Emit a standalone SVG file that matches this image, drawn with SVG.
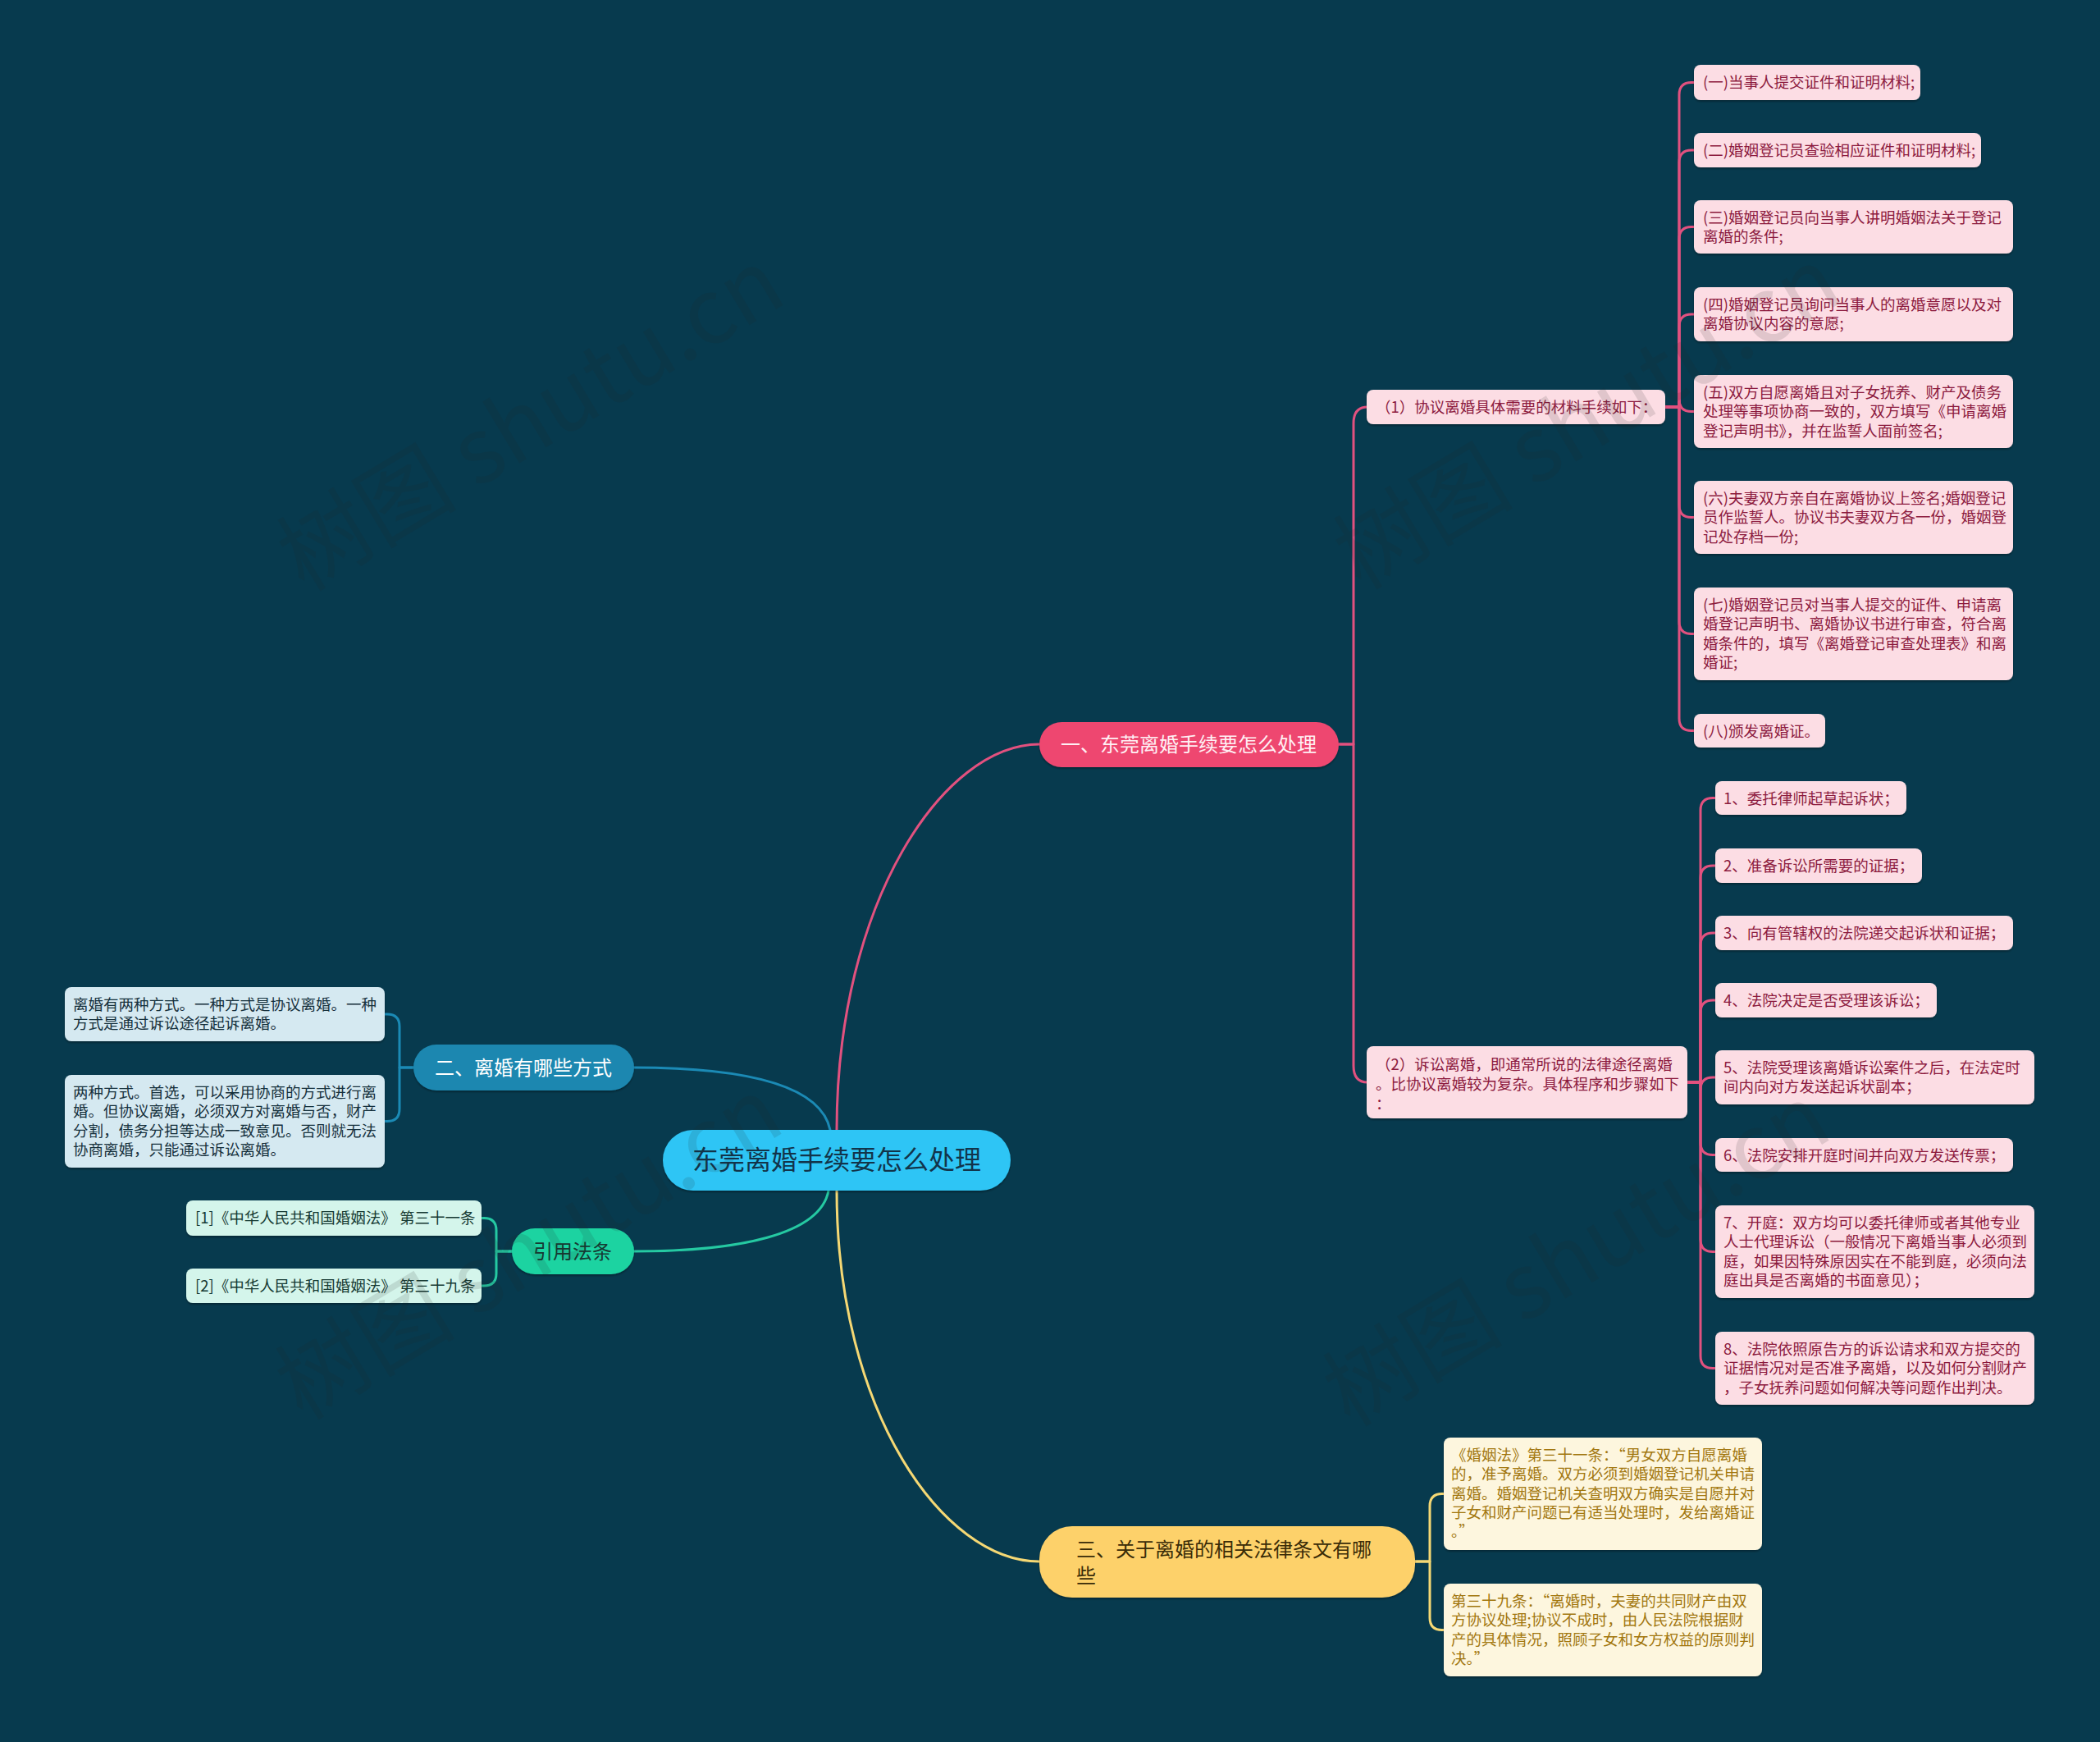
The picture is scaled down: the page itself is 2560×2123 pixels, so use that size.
<svg xmlns="http://www.w3.org/2000/svg" width="2560" height="2123" viewBox="0 0 2560 2123">
<defs>
<filter id="sh" x="-10%" y="-20%" width="120%" height="150%"><feDropShadow dx="0" dy="2" stdDeviation="1" flood-color="#000" flood-opacity="0.3"/></filter>
<style>
text{font-family:"Noto Sans CJK SC","Noto Sans",sans-serif}
.s{font-size:18.5px}
.b{font-size:24px}
.pk{fill:#fcdde4}
.pkt{fill:#8c1a3e}
.bl{fill:#d5e9f1}
.blt{fill:#15303c}
.gr{fill:#d4f5eb}
.grt{fill:#163a33}
.yl{fill:#fdf6de}
.ylt{fill:#a2770f}
.c{fill:none;stroke-width:3;stroke-linecap:round;stroke-linejoin:round}
.cp{stroke:#e2517f}
.cb{stroke:#1b8ab5}
.cg{stroke:#25c9a2}
.cy{stroke:#f5d874}
.wm{font-size:110px;fill:#222;opacity:0.12}
</style>
</defs>
<rect width="2560" height="2123" fill="#073a4e"/>

<g id="connectors">
<path class="c cp" d="M1020 1400 V1377 C1020 1100 1150 907 1267 907"/>
<path class="c cb" d="M772 1301 C900 1301 1000 1320 1012 1377"/>
<path class="c cg" d="M772 1525 C900 1525 1000 1505 1010 1451"/>
<path class="c cy" d="M1020 1451 C1020 1720 1150 1903 1267 1903"/>

<path class="c cp" d="M1632 907 H1650 V516 Q1650 496 1667 496"/>
<path class="c cp" d="M1632 907 H1650 V1299 Q1650 1319 1667 1319"/>

<path class="c cp" d="M2030 496 H2047 V115.5 Q2047 100.5 2062 100.5 H2065"/>
<path class="c cp" d="M2030 496 H2047 V198 Q2047 183 2062 183 H2065"/>
<path class="c cp" d="M2030 496 H2047 V291.5 Q2047 276.5 2062 276.5 H2065"/>
<path class="c cp" d="M2030 496 H2047 V398 Q2047 383 2062 383 H2065"/>
<path class="c cp" d="M2030 496 H2047 V486.5 Q2047 501.5 2062 501.5 H2065"/>
<path class="c cp" d="M2030 496 H2047 V615.5 Q2047 630.5 2062 630.5 H2065"/>
<path class="c cp" d="M2030 496 H2047 V757.5 Q2047 772.5 2062 772.5 H2065"/>
<path class="c cp" d="M2030 496 H2047 V875.5 Q2047 890.5 2062 890.5 H2065"/>

<path class="c cp" d="M2057 1319 H2073 V987.5 Q2073 972.5 2088 972.5 H2091"/>
<path class="c cp" d="M2057 1319 H2073 V1070 Q2073 1055 2088 1055 H2091"/>
<path class="c cp" d="M2057 1319 H2073 V1152 Q2073 1137 2088 1137 H2091"/>
<path class="c cp" d="M2057 1319 H2073 V1234 Q2073 1219 2088 1219 H2091"/>
<path class="c cp" d="M2057 1319 H2073 V1328 Q2073 1313 2088 1313 H2091"/>
<path class="c cp" d="M2057 1319 H2073 V1392.5 Q2073 1407.5 2088 1407.5 H2091"/>
<path class="c cp" d="M2057 1319 H2073 V1510.5 Q2073 1525.5 2088 1525.5 H2091"/>
<path class="c cp" d="M2057 1319 H2073 V1652.5 Q2073 1667.5 2088 1667.5 H2091"/>

<path class="c cb" d="M504 1301 H487 V1251 Q487 1236 472 1236 H469"/>
<path class="c cb" d="M504 1301 H487 V1351.5 Q487 1366.5 472 1366.5 H469"/>

<path class="c cg" d="M624 1525 H605 V1499.5 Q605 1484.5 590 1484.5 H587"/>
<path class="c cg" d="M624 1525 H605 V1552 Q605 1567 590 1567 H587"/>

<path class="c cy" d="M1725 1903 H1743 V1835.5 Q1743 1820.5 1758 1820.5 H1760"/>
<path class="c cy" d="M1725 1903 H1743 V1971.5 Q1743 1986.5 1758 1986.5 H1760"/>
</g>

<g id="root">
<rect x="808" y="1377" width="424" height="74" rx="37" fill="#2fc5f5" filter="url(#sh)"/>
<text x="1020" y="1425" font-size="32" fill="#12344a" text-anchor="middle">东莞离婚手续要怎么处理</text>
</g>

<g id="branch1">
<rect x="1267" y="880" width="365" height="55" rx="27.5" fill="#ee4670" filter="url(#sh)"/>
<text class="b" x="1449" y="916" fill="#fff0f4" text-anchor="middle">一、东莞离婚手续要怎么处理</text>
</g>

<g id="n1-1">
<rect class="pk" x="1666" y="475" width="364" height="42" rx="8" filter="url(#sh)"/>
<text class="s pkt" x="1677" y="503">（1）协议离婚具体需要的材料手续如下：</text>
</g>
<g id="n1-2">
<rect class="pk" x="1666" y="1275" width="391" height="88" rx="8" filter="url(#sh)"/>
<text class="s pkt"><tspan x="1677" y="1304">（2）诉讼离婚，即通常所说的法律途径离婚</tspan><tspan x="1677" y="1328">。比协议离婚较为复杂。具体程序和步骤如下</tspan><tspan x="1677" y="1352">：</tspan></text>
</g>

<g id="a1">
<rect class="pk" x="2065" y="79" width="276" height="43" rx="8" filter="url(#sh)"/>
<text class="s pkt" x="2076" y="107">(一)当事人提交证件和证明材料;</text>
</g>
<g id="a2">
<rect class="pk" x="2065" y="162" width="350" height="42" rx="8" filter="url(#sh)"/>
<text class="s pkt" x="2076" y="190">(二)婚姻登记员查验相应证件和证明材料;</text>
</g>
<g id="a3">
<rect class="pk" x="2065" y="244" width="389" height="65" rx="8" filter="url(#sh)"/>
<text class="s pkt"><tspan x="2076" y="272">(三)婚姻登记员向当事人讲明婚姻法关于登记</tspan><tspan x="2076" y="295.3">离婚的条件;</tspan></text>
</g>
<g id="a4">
<rect class="pk" x="2065" y="350" width="389" height="66" rx="8" filter="url(#sh)"/>
<text class="s pkt"><tspan x="2076" y="378">(四)婚姻登记员询问当事人的离婚意愿以及对</tspan><tspan x="2076" y="401.3">离婚协议内容的意愿;</tspan></text>
</g>
<g id="a5">
<rect class="pk" x="2065" y="457" width="389" height="89" rx="8" filter="url(#sh)"/>
<text class="s pkt"><tspan x="2076" y="485">(五)双方自愿离婚且对子女抚养、财产及债务</tspan><tspan x="2076" y="508.3">处理等事项协商一致的，双方填写《申请离婚</tspan><tspan x="2076" y="531.6">登记声明书》，并在监誓人面前签名;</tspan></text>
</g>
<g id="a6">
<rect class="pk" x="2065" y="586" width="389" height="89" rx="8" filter="url(#sh)"/>
<text class="s pkt"><tspan x="2076" y="614">(六)夫妻双方亲自在离婚协议上签名;婚姻登记</tspan><tspan x="2076" y="637.3">员作监誓人。协议书夫妻双方各一份，婚姻登</tspan><tspan x="2076" y="660.6">记处存档一份;</tspan></text>
</g>
<g id="a7">
<rect class="pk" x="2065" y="716" width="389" height="113" rx="8" filter="url(#sh)"/>
<text class="s pkt"><tspan x="2076" y="744">(七)婚姻登记员对当事人提交的证件、申请离</tspan><tspan x="2076" y="767.3">婚登记声明书、离婚协议书进行审查，符合离</tspan><tspan x="2076" y="790.6">婚条件的，填写《离婚登记审查处理表》和离</tspan><tspan x="2076" y="813.9">婚证;</tspan></text>
</g>
<g id="a8">
<rect class="pk" x="2065" y="870" width="160" height="41" rx="8" filter="url(#sh)"/>
<text class="s pkt" x="2076" y="898">(八)颁发离婚证。</text>
</g>

<g id="b1">
<rect class="pk" x="2091" y="952" width="233" height="41" rx="8" filter="url(#sh)"/>
<text class="s pkt" x="2101" y="980">1、委托律师起草起诉状；</text>
</g>
<g id="b2">
<rect class="pk" x="2091" y="1034" width="252" height="42" rx="8" filter="url(#sh)"/>
<text class="s pkt" x="2101" y="1062">2、准备诉讼所需要的证据；</text>
</g>
<g id="b3">
<rect class="pk" x="2091" y="1116" width="363" height="42" rx="8" filter="url(#sh)"/>
<text class="s pkt" x="2101" y="1144">3、向有管辖权的法院递交起诉状和证据；</text>
</g>
<g id="b4">
<rect class="pk" x="2091" y="1198" width="270" height="42" rx="8" filter="url(#sh)"/>
<text class="s pkt" x="2101" y="1226">4、法院决定是否受理该诉讼；</text>
</g>
<g id="b5">
<rect class="pk" x="2091" y="1280" width="389" height="66" rx="8" filter="url(#sh)"/>
<text class="s pkt"><tspan x="2101" y="1308">5、法院受理该离婚诉讼案件之后，在法定时</tspan><tspan x="2101" y="1331.3">间内向对方发送起诉状副本；</tspan></text>
</g>
<g id="b6">
<rect class="pk" x="2091" y="1387" width="363" height="41" rx="8" filter="url(#sh)"/>
<text class="s pkt" x="2101" y="1415">6、法院安排开庭时间并向双方发送传票；</text>
</g>
<g id="b7">
<rect class="pk" x="2091" y="1469" width="389" height="113" rx="8" filter="url(#sh)"/>
<text class="s pkt"><tspan x="2101" y="1497">7、开庭：双方均可以委托律师或者其他专业</tspan><tspan x="2101" y="1520.3">人士代理诉讼（一般情况下离婚当事人必须到</tspan><tspan x="2101" y="1543.6">庭，如果因特殊原因实在不能到庭，必须向法</tspan><tspan x="2101" y="1566.9">庭出具是否离婚的书面意见）；</tspan></text>
</g>
<g id="b8">
<rect class="pk" x="2091" y="1623" width="389" height="89" rx="8" filter="url(#sh)"/>
<text class="s pkt"><tspan x="2101" y="1651">8、法院依照原告方的诉讼请求和双方提交的</tspan><tspan x="2101" y="1674.3">证据情况对是否准予离婚，以及如何分割财产</tspan><tspan x="2101" y="1697.6">，子女抚养问题如何解决等问题作出判决。</tspan></text>
</g>

<g id="branch2">
<rect x="504" y="1273" width="269" height="56" rx="28" fill="#1b87b0" filter="url(#sh)"/>
<text class="b" x="638" y="1310" fill="#ffffff" text-anchor="middle">二、离婚有哪些方式</text>
</g>
<g id="c1">
<rect class="bl" x="79" y="1203" width="390" height="66" rx="8" filter="url(#sh)"/>
<text class="s blt"><tspan x="89" y="1231">离婚有两种方式。一种方式是协议离婚。一种</tspan><tspan x="89" y="1254.3">方式是通过诉讼途径起诉离婚。</tspan></text>
</g>
<g id="c2">
<rect class="bl" x="79" y="1310" width="390" height="113" rx="8" filter="url(#sh)"/>
<text class="s blt"><tspan x="89" y="1338">两种方式。首选，可以采用协商的方式进行离</tspan><tspan x="89" y="1361.3">婚。但协议离婚，必须双方对离婚与否，财产</tspan><tspan x="89" y="1384.6">分割，债务分担等达成一致意见。否则就无法</tspan><tspan x="89" y="1407.9">协商离婚，只能通过诉讼离婚。</tspan></text>
</g>

<g id="cite">
<rect x="624" y="1497" width="149" height="56" rx="28" fill="#1dd3a1" filter="url(#sh)"/>
<text class="b" x="698" y="1534" fill="#163a33" text-anchor="middle">引用法条</text>
</g>
<g id="d1">
<rect class="gr" x="227" y="1463" width="360" height="43" rx="8" filter="url(#sh)"/>
<text class="s grt" x="238" y="1491">[1]《中华人民共和国婚姻法》 第三十一条</text>
</g>
<g id="d2">
<rect class="gr" x="227" y="1546" width="360" height="42" rx="8" filter="url(#sh)"/>
<text class="s grt" x="238" y="1574">[2]《中华人民共和国婚姻法》 第三十九条</text>
</g>

<g id="branch3">
<rect x="1267" y="1860" width="458" height="87" rx="40" fill="#fdd16b" filter="url(#sh)"/>
<text class="b" fill="#3a2c08"><tspan x="1312" y="1897">三、关于离婚的相关法律条文有哪</tspan><tspan x="1312" y="1929">些</tspan></text>
</g>
<g id="e1">
<rect class="yl" x="1760" y="1752" width="388" height="137" rx="8" filter="url(#sh)"/>
<text class="s ylt"><tspan x="1769" y="1780">《婚姻法》第三十一条：“男女双方自愿离婚</tspan><tspan x="1769" y="1803.3">的，准予离婚。双方必须到婚姻登记机关申请</tspan><tspan x="1769" y="1826.6">离婚。婚姻登记机关查明双方确实是自愿并对</tspan><tspan x="1769" y="1849.9">子女和财产问题已有适当处理时，发给离婚证</tspan><tspan x="1769" y="1873.2">。”</tspan></text>
</g>
<g id="e2">
<rect class="yl" x="1760" y="1930" width="388" height="113" rx="8" filter="url(#sh)"/>
<text class="s ylt"><tspan x="1769" y="1958">第三十九条：“离婚时，夫妻的共同财产由双</tspan><tspan x="1769" y="1981.3">方协议处理;协议不成时，由人民法院根据财</tspan><tspan x="1769" y="2004.6">产的具体情况，照顾子女和女方权益的原则判</tspan><tspan x="1769" y="2027.9">决。”</tspan></text>
</g>

<g id="watermark" pointer-events="none">
<text class="wm" x="647" y="550" text-anchor="middle" transform="rotate(-31 647 512)">树图 shutu.cn</text>
<text class="wm" x="1935" y="548" text-anchor="middle" transform="rotate(-31 1935 510)">树图 shutu.cn</text>
<text class="wm" x="645" y="1560" text-anchor="middle" transform="rotate(-31 645 1522)">树图 shutu.cn</text>
<text class="wm" x="1922" y="1568" text-anchor="middle" transform="rotate(-31 1922 1530)">树图 shutu.cn</text>
</g>
</svg>
